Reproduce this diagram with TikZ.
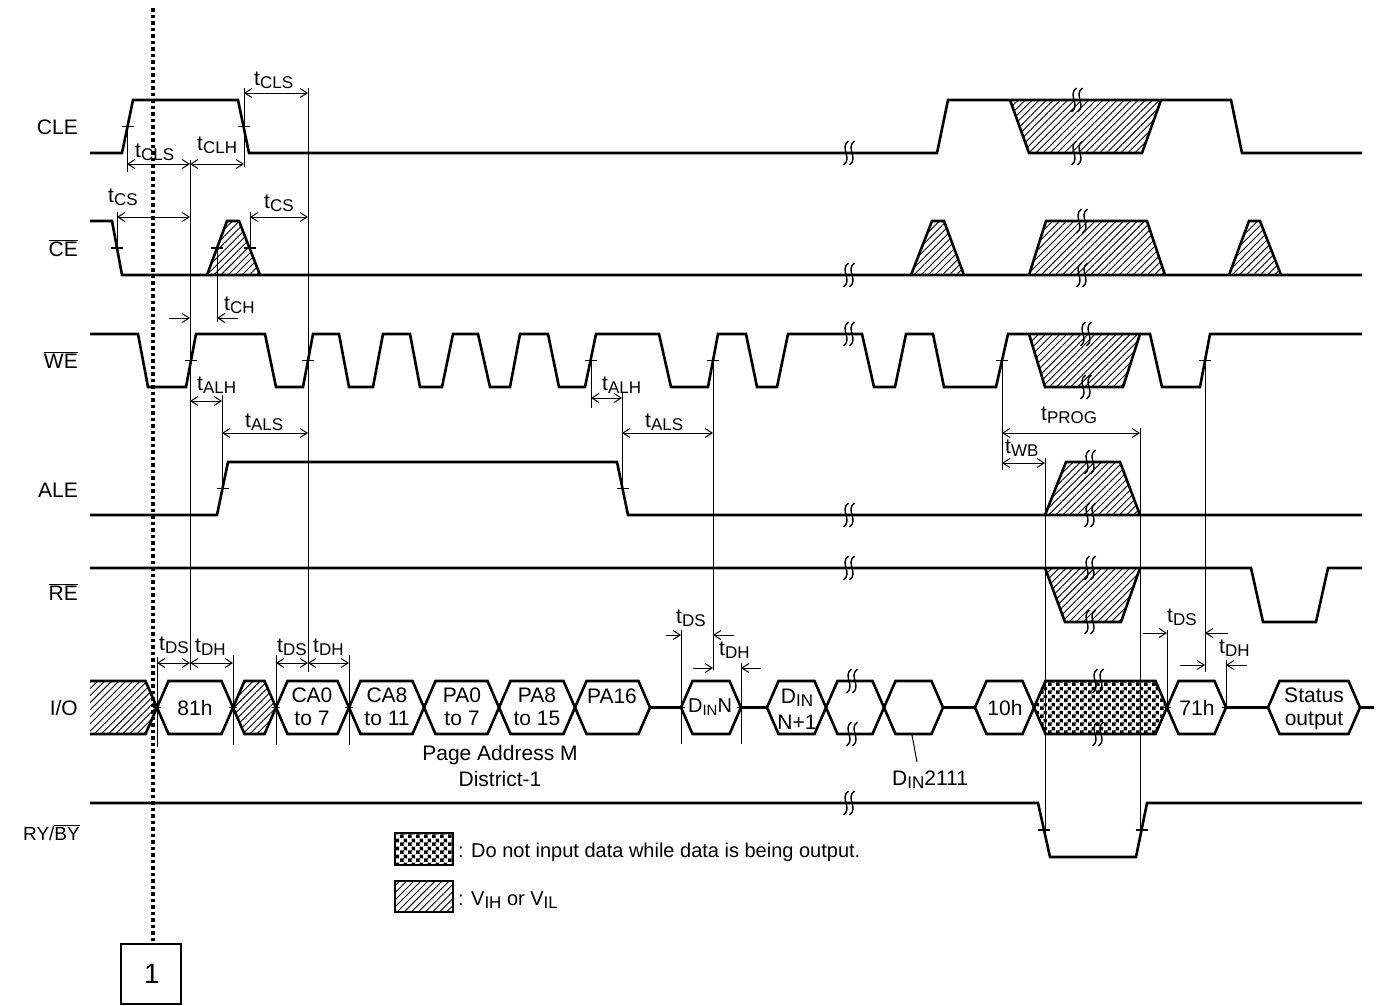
\documentclass[tikz,border=0pt]{standalone}
\usepackage{fontspec}
\setmainfont{Liberation Sans}
\usetikzlibrary{patterns,patterns.meta,arrows.meta}
\pgfdeclarepatternformonly{chk}{\pgfpointorigin}{\pgfqpoint{8pt}{8pt}}{\pgfqpoint{8pt}{8pt}}{%
  \pgfpathrectangle{\pgfpointorigin}{\pgfqpoint{4pt}{4pt}}%
  \pgfpathrectangle{\pgfqpoint{4pt}{4pt}}{\pgfqpoint{4pt}{4pt}}%
  \pgfusepath{fill}}
\newcommand{\ts}[1]{t\raisebox{-3pt}{\fontsize{17}{17}\selectfont #1}}
\newcommand{\sbs}[1]{\raisebox{-3pt}{\fontsize{17}{17}\selectfont #1}}
\newcommand{\sbsm}[1]{\raisebox{-3pt}{\fontsize{15}{15}\selectfont #1}}
\newcommand{\ovl}[1]{$\overline{\mbox{#1}}$}
\newcommand{\brkone}[2]{\draw[line width=1.4pt] ({#1+2.5},{#2-12}) .. controls ({#1-7},{#2-5}) and ({#1+7},{#2+5}) .. ({#1-2.5},{#2+12});}
\newcommand{\brk}[2]{\brkone{#1-3}{#2}\brkone{#1+3}{#2}}
\newcommand{\tck}[2]{\draw[tck] ({#1-6},#2) -- ({#1+6},#2);}
\newcommand{\hexa}[3][]{\draw[sig,#1] (#2,707.5) -- ({#2+11.5},681) -- ({#3-11.5},681) -- (#3,707.5) -- ({#3-11.5},734) -- ({#2+11.5},734) -- cycle;}
\tikzset{
 sig/.style={line width=2.6pt, line join=miter},
 tl/.style={line width=1pt},
 tck/.style={line width=1.2pt},
 dim/.style={line width=1pt, {Straight Barb[length=7pt,width=9pt]}-{Straight Barb[length=7pt,width=9pt]}},
 outa/.style={line width=1pt, -{Straight Barb[length=7pt,width=9pt]}},
 hat/.style={pattern={Lines[angle=45,distance=5pt,line width=0.9pt]}},
 chkf/.style={pattern=chk},
 lbl/.style={font=\fontsize{21}{24}\selectfont, inner sep=0pt, align=center},
 tlab/.style={font=\fontsize{21}{24}\selectfont, inner sep=0pt, anchor=base west},
 sname/.style={font=\fontsize{21}{24}\selectfont, inner sep=0pt, anchor=base east},
}
\begin{document}
\begin{tikzpicture}[x=1pt,y=-1pt]
\useasboundingbox (0,0) rectangle (1384,1005);
\fill[white] (0,0) rectangle (1384,1005);

% signal names
\node[sname] (nCLE) at (78,134.5) {CLE};
\node[sname] (nCE) at (78,256.5) {\ovl{CE}};
\node[sname] (nWE) at (78,368) {\ovl{WE}};
\node[sname] (nALE) at (78,497.5) {ALE};
\node[sname] (nRE) at (78,600) {\ovl{RE}};
\node[sname] (nIO) at (78,715) {I/O};
\node[sname,font=\fontsize{19}{22}\selectfont] (nRY) at (80,840) {RY/\ovl{BY}};

% dotted marker line and box
\draw[line width=3.5pt, dash pattern=on 3.5pt off 3pt] (153,8) -- (153,944);
\draw[line width=2pt] (121,944) rectangle (181,1004);
\node[font=\fontsize{28}{30}\selectfont, inner sep=0pt] (one) at (152,974) {1};

% CLE
\draw[sig,hat] (1010,100) -- (1029,153) -- (1142,153) -- (1161,100);
\draw[sig] (90,153) -- (122,153) -- (133,100) -- (238,100) -- (249,153) -- (937,153) -- (948,100) -- (1231,100) -- (1242,153) -- (1362,153);
% CE
\draw[sig] (90,221) -- (112,221) -- (122,275) -- (1362,275);
\draw[sig,hat] (207,275) -- (227,221) -- (239,221) -- (260,275);
\draw[sig,hat] (911,275) -- (932,221) -- (944,221) -- (964,275);
\draw[sig,hat] (1029,275) -- (1046,221) -- (1147,221) -- (1165,275);
\draw[sig,hat] (1229,275) -- (1249,221) -- (1260,221) -- (1281,275);
% WE
\draw[sig,hat] (1029,334) -- (1045,387) -- (1123,387) -- (1140,334);
\draw[sig] (90,334) -- (138,334) -- (148,387) -- (186,387) -- (196,334) -- (265,334) -- (276,387) -- (303,387) -- (313,334) -- (339,334) -- (349,387) -- (373,387) -- (383,334) -- (410,334) -- (420,387) -- (442,387) -- (453,334) -- (478,334) -- (490,387) -- (510,387) -- (520,334) -- (548,334) -- (559,387) -- (585,387) -- (596,334) -- (659,334) -- (671,387) -- (708,387) -- (718,334) -- (746,334) -- (757,387) -- (777,387) -- (788,334) -- (862,334) -- (874,387) -- (895,387) -- (906,334) -- (933,334) -- (944,387) -- (996,387) -- (1008,334) -- (1150,334) -- (1162,387) -- (1200,387) -- (1210,334) -- (1362,334);
% ALE
\draw[sig,hat] (1045,515) -- (1066,462) -- (1120,462) -- (1140,515);
\draw[sig] (90,515) -- (217,515) -- (228,462) -- (617,462) -- (628,515) -- (1362,515);
% RE
\draw[sig,hat] (1045,568) -- (1065,622) -- (1121,622) -- (1140,568);
\draw[sig] (90,568) -- (1251,568) -- (1263,622) -- (1316,622) -- (1328,568) -- (1362,568);
% RY/BY
\draw[sig] (90,803) -- (1038,803) -- (1050,857) -- (1136,857) -- (1147,803) -- (1362,803);

% I/O bus
\draw[sig,hat] (90,681) -- (145.5,681) -- (157,707.5) -- (145.5,734) -- (90,734);
\hexa{157}{233}
\hexa[hat]{233}{276}
\hexa{276}{349}
\hexa{349}{424}
\hexa{424}{499}
\hexa{499}{575}
\hexa{575}{650}
\draw[sig] (650,707.5) -- (681,707.5);
\hexa{681}{741}
\draw[sig] (741,707.5) -- (767,707.5);
\hexa{767}{826}
\hexa{826}{884}
\hexa{884}{943}
\draw[sig] (943,707.5) -- (975,707.5);
\hexa{975}{1034}
\hexa[chkf]{1034}{1167}
\hexa{1167}{1226}
\draw[sig] (1226,707.5) -- (1268,707.5);
\hexa{1268}{1360}
\draw[sig] (1360,707.5) -- (1374,707.5);

% bus texts
\node[lbl] (t81) at (195,707.5) {81h};
\node[lbl,font=\fontsize{21}{23}\selectfont] (tCA0) at (312,707) {CA0\\to 7};
\node[lbl,font=\fontsize{21}{23}\selectfont] (tCA8) at (387,707) {CA8\\to 11};
\node[lbl,font=\fontsize{21}{23}\selectfont] (tPA0) at (462,707) {PA0\\to 7};
\node[lbl,font=\fontsize{21}{23}\selectfont] (tPA8) at (537,707) {PA8\\to 15};
\node[lbl,anchor=base] (tPA16) at (612,703) {PA16};
\node[lbl,font=\fontsize{20}{24}\selectfont] (tDN) at (710,707.5) {D\sbsm{IN}N};
\node[lbl,font=\fontsize{21}{26}\selectfont] (tDN1) at (797,709) {D\sbs{IN}\\N+1};
\node[lbl] (t10h) at (1005,707.5) {10h};
\node[lbl] (t71h) at (1197,707.5) {71h};
\node[lbl,font=\fontsize{21}{23}\selectfont] (tst) at (1314,709) {Status\\output};
\node[lbl,anchor=base] (tpam) at (500,760) {Page Address M};
\node[lbl,anchor=base] (tdis) at (500,786) {District-1};
\node[tlab] (tD2111) at (892,785) {D\sbs{IN}2111};
\coordinate (c1) at (912,735);
\coordinate (c2) at (917,762);
\draw[tl] (c1) -- (c2);

% breaks
\foreach \yy in {153,275,334,515,568,803} {\brk{849}{\yy}}
\brk{852}{681}\brk{852}{734}
\brk{1077}{100}\brk{1077}{153}
\brk{1082}{221}\brk{1082}{275}
\brk{1086}{334}\brk{1086}{387}
\brk{1090}{462}\brk{1090}{515}
\brk{1090}{568}\brk{1090}{622}
\brk{1098}{681}\brk{1098}{734}

% ticks
\tck{127.5}{126.5}\tck{243.5}{126.5}
\tck{117}{248}\tck{217}{248}\tck{250}{248}
\tck{191}{360.5}\tck{308}{360.5}\tck{590.5}{360.5}\tck{713}{360.5}\tck{1002}{360.5}\tck{1205}{360.5}
\tck{222.5}{488.5}\tck{622.5}{488.5}
\tck{1044}{830}\tck{1141.5}{830}
\foreach \xx in {157,233,276,349,681,741,1167,1226} {\draw[tck] (\xx-4,707.5) -- (\xx+4,707.5);}

% thin vertical reference lines
\draw[tl] (127,126) -- (127,172);
\draw[tl] (244,88) -- (244,167);
\draw[tl] (308,88) -- (308,672);
\draw[tl] (190,160) -- (190,670);
\draw[tl] (117,212) -- (117,249);
\draw[tl] (250,212) -- (250,249);
\draw[tl] (217,249) -- (217,322);
\draw[tl] (222,395) -- (222,488);
\draw[tl] (591,361) -- (591,408);
\draw[tl] (622,393) -- (622,489);
\draw[tl] (713,361) -- (713,670);
\draw[tl] (157,657) -- (157,747);
\draw[tl] (233,655) -- (233,745);
\draw[tl] (276,655) -- (276,745);
\draw[tl] (349,655) -- (349,745);
\draw[tl] (681,630) -- (681,744);
\draw[tl] (741,663) -- (741,744);
\draw[tl] (1002,361) -- (1002,470);
\draw[tl] (1045,458) -- (1045,832);
\draw[tl] (1140,428) -- (1140,832);
\draw[tl] (1167,630) -- (1167,707);
\draw[tl] (1205,361) -- (1205,672);
\draw[tl] (1226,660) -- (1226,707);

% dimension arrows
\draw[dim] (244,93) -- (308,93);
\draw[dim] (127,164) -- (190,164);
\draw[dim] (190,164) -- (244,164);
\draw[dim] (117,217) -- (190,217);
\draw[dim] (250,217) -- (308,217);
\draw[outa] (169,318) -- (190,318);
\draw[outa] (238,318) -- (217,318);
\draw[dim] (190,401) -- (222,401);
\draw[dim] (222,433) -- (308,433);
\draw[dim] (591,398) -- (622,398);
\draw[dim] (622,433) -- (713,433);
\draw[dim] (1002,433) -- (1140,433);
\draw[dim] (1002,463) -- (1045,463);
\draw[dim] (157,663) -- (190,663);
\draw[dim] (190,663) -- (233,663);
\draw[dim] (276,663) -- (308,663);
\draw[dim] (308,663) -- (349,663);
\draw[outa] (666,635) -- (681,635);
\draw[outa] (734,635) -- (713,635);
\draw[outa] (693,668) -- (713,668);
\draw[outa] (761,668) -- (741,668);
\draw[outa] (1143,633) -- (1167,633);
\draw[outa] (1228,633) -- (1205,633);
\draw[outa] (1180,665) -- (1205,665);
\draw[outa] (1247,665) -- (1226,665);

% timing labels
\node[tlab] (lCLS1) at (254,85) {\ts{CLS}};
\node[tlab] (lCLS2) at (135,157) {\ts{CLS}};
\node[tlab] (lCLH) at (197,150) {\ts{CLH}};
\node[tlab] (lCS1) at (108,202) {\ts{CS}};
\node[tlab] (lCS2) at (264,208) {\ts{CS}};
\node[tlab] (lCH) at (224,310) {\ts{CH}};
\node[tlab] (lALH1) at (197,390) {\ts{ALH}};
\node[tlab] (lALS1) at (245,427) {\ts{ALS}};
\node[tlab] (lALH2) at (602,390) {\ts{ALH}};
\node[tlab] (lALS2) at (645,427) {\ts{ALS}};
\node[tlab] (lPROG) at (1041,420) {\ts{PROG}};
\node[tlab] (lWB) at (1005,453) {\ts{WB}};
\node[tlab] (lDS1) at (159,650) {\ts{DS}};
\node[tlab] (lDH1) at (195,652) {\ts{DH}};
\node[tlab] (lDS2) at (277,652) {\ts{DS}};
\node[tlab] (lDH2) at (313,652) {\ts{DH}};
\node[tlab] (lDS3) at (676,623) {\ts{DS}};
\node[tlab] (lDH3) at (719,655) {\ts{DH}};
\node[tlab] (lDS4) at (1167,622) {\ts{DS}};
\node[tlab] (lDH4) at (1219,653) {\ts{DH}};

% legend
\draw[line width=2.5pt,chkf] (395,833) rectangle (453,865);
\node[tlab,font=\fontsize{20}{24}\selectfont] (leg1) at (458,857) {: Do not input data while data is being output.};
\draw[line width=2.5pt,hat] (395,881) rectangle (453,912);
\node[tlab,font=\fontsize{20}{24}\selectfont] (leg2) at (458,905) {: V\sbs{IH} or V\sbs{IL}};
\end{tikzpicture}
\end{document}
